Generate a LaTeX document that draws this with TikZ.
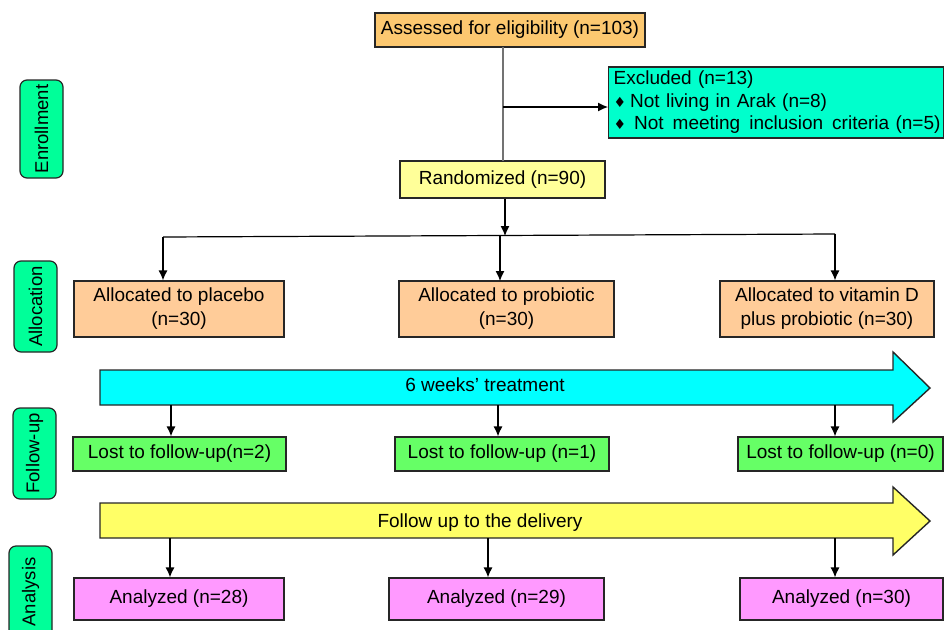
\documentclass[tikz,border=0pt]{standalone}
\usepackage{fontspec}
\setmainfont{Liberation Sans}
\newfontfamily\symfont{DejaVu Sans}
\usepackage{tikz}
\usetikzlibrary{arrows.meta}
\definecolor{assessOrange}{RGB}{252,200,112}
\definecolor{excludedTeal}{RGB}{0,255,204}
\definecolor{randYellow}{RGB}{255,255,153}
\definecolor{allocPeach}{RGB}{255,204,153}
\definecolor{stageGreen}{RGB}{0,255,153}
\definecolor{lostGreen}{RGB}{102,255,102}
\definecolor{treatCyan}{RGB}{0,255,255}
\definecolor{deliveryYellow}{RGB}{255,255,102}
\definecolor{analyzedPink}{RGB}{255,153,255}
\newcommand{\dmd}{{\symfont\fontsize{14}{14}\selectfont ♦}}
\tikzset{
  boxnode/.style={draw=black!85, line width=1.2pt, inner sep=0pt, align=center,
    font=\fontsize{19}{24}\selectfont},
  stagenode/.style={draw=black!85, line width=1.2pt, rounded corners=7pt, fill=stageGreen,
    rotate=90, inner sep=0pt, font=\fontsize{18.5}{22}\selectfont},
  bigarrow/.style={draw=black!85, line width=1.4pt},
  flow/.style={-{Latex[length=10pt,width=9pt]}, line width=1.2pt},
}
\begin{document}
\begin{tikzpicture}[x=1pt, y=-1pt]
        \useasboundingbox (0,0) rectangle (944,629);

        % stages
        \node[stagenode, minimum width=98pt, minimum height=43pt] (enroll) at (41.5,129) {Enrollment};
        \node[stagenode, minimum width=91pt, minimum height=43pt] (alloc) at (35.5,306.5) {Allocation};
        \node[stagenode, minimum width=91pt, minimum height=43pt] (follow) at (34.5,453.5) {Follow-up};
        \node[stagenode, minimum width=92pt, minimum height=43pt] (analysis) at (30.5,592) {Analysis};

        % enrollment
        \node[boxnode, fill=assessOrange, minimum width=270pt, minimum height=34pt] (assess) at (510,30) {Assessed for eligibility (n=103)};
        \node[boxnode, fill=excludedTeal, text width=325pt, minimum height=71pt, align=left, anchor=west, inner xsep=5pt, font=\fontsize{19}{22.5}\selectfont] (excl) at (608,102.5)
          {Excluded (n=13)\\ \dmd\hspace{4pt}Not living in Arak (n=8)\\ \mbox{\dmd\hspace{8pt}Not\hspace{9pt}meeting\hspace{9pt}inclusion\hspace{9pt}criteria (n=5)}};
        \node[boxnode, fill=randYellow, minimum width=205pt, minimum height=37pt] (rand) at (502.5,179.5) {Randomized (n=90)};
        \coordinate (split) at (503,107);
        \draw[line width=1.2pt, black!55] (503,47) -- (503,161);
        \draw[flow] (split) -- (split -| excl.west);

        % allocation
        \node[boxnode, fill=allocPeach, minimum width=210pt, minimum height=56pt] (placebo) at (179,309) {Allocated to placebo\\(n=30)};
        \node[boxnode, fill=allocPeach, minimum width=215pt, minimum height=56pt] (probio) at (506.5,309) {Allocated to probiotic\\(n=30)};
        \node[boxnode, fill=allocPeach, minimum width=214pt, minimum height=56pt] (vitd) at (827,309) {Allocated to vitamin D\\plus probiotic (n=30)};
        \coordinate (mid) at (505,236);
        \coordinate (left) at (163,237);
        \coordinate (right) at (835,234);
        \draw[flow] (rand.south -| mid) -- (mid);
        \draw[line width=1.2pt] (left) -- (right);
        \draw[flow] (left) -- (left |- placebo.north);
        \draw[flow] (500,236) -- (500,281);
        \draw[flow] (right) -- (right |- vitd.north);

        % 6 weeks' treatment
        \draw[bigarrow, fill=treatCyan] (100,370) -- (893,370) -- (893,352) -- (930,388) -- (893,422) -- (893,405) -- (100,405) -- cycle;
        \node[font=\fontsize{19}{22}\selectfont] (treat) at (485,385) {6 weeks’ treatment};

        % follow-up
        \node[boxnode, fill=lostGreen, minimum width=213pt, minimum height=34pt] (lost1) at (179.5,454) {Lost to follow-up(n=2)};
        \node[boxnode, fill=lostGreen, minimum width=214pt, minimum height=34pt] (lost2) at (502,454) {Lost to follow-up (n=1)};
        \node[boxnode, fill=lostGreen, minimum width=205pt, minimum height=34pt] (lost3) at (840.5,454) {Lost to follow-up (n=0)};
        \coordinate (t1) at (171,405);
        \coordinate (t2) at (498,405);
        \coordinate (t3) at (835,405);
        \draw[flow] (t1) -- (t1 |- lost1.north);
        \draw[flow] (t2) -- (t2 |- lost2.north);
        \draw[flow] (t3) -- (t3 |- lost3.north);

        % follow up to the delivery
        \draw[bigarrow, fill=deliveryYellow] (100,503) -- (893,503) -- (893,487) -- (930,521) -- (893,555) -- (893,538) -- (100,538) -- cycle;
        \node[font=\fontsize{19}{22}\selectfont] (deliv) at (480,523) {Follow up to the delivery};

        % analysis
        \node[boxnode, fill=analyzedPink, minimum width=210pt, minimum height=42pt] (an1) at (179,599) {Analyzed (n=28)};
        \node[boxnode, fill=analyzedPink, minimum width=215pt, minimum height=42pt] (an2) at (496.5,599) {Analyzed (n=29)};
        \node[boxnode, fill=analyzedPink, minimum width=203pt, minimum height=42pt] (an3) at (841.5,599) {Analyzed (n=30)};
        \coordinate (d1) at (170,538);
        \coordinate (d2) at (488,538);
        \coordinate (d3) at (835,538);
        \draw[flow] (d1) -- (d1 |- an1.north);
        \draw[flow] (d2) -- (d2 |- an2.north);
        \draw[flow] (d3) -- (d3 |- an3.north);

    \end{tikzpicture}
\end{document}
